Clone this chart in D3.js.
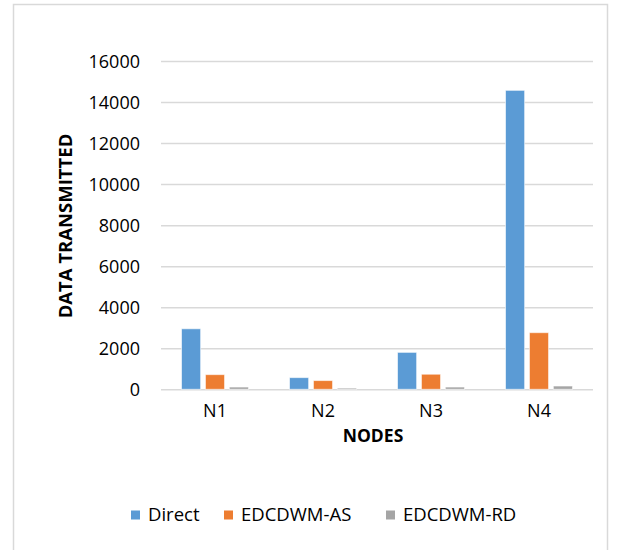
<!DOCTYPE html>
<html>
<head>
<meta charset="utf-8">
<script src="https://cdn.jsdelivr.net/npm/d3@7"></script>
<style>
  html, body { margin: 0; padding: 0; background: #fff; }
  svg { display: block; }
  text { font-family: "Open Sans", "Noto Sans", sans-serif; fill: #000; }
</style>
</head>
<body>
<svg id="chart" width="621" height="550"></svg>
<script>
const categories = ["N1", "N2", "N3", "N4"];
const seriesNames = ["Direct", "EDCDWM-AS", "EDCDWM-RD"];
const directValues = [2950, 570, 1800, 14570];
const asValues = [715, 425, 735, 2760];
const rdValues = [110, 60, 110, 160];
const yTicks = [0, 2000, 4000, 6000, 8000, 10000, 12000, 14000, 16000];
const colors = ["#5B9BD5", "#ED7D31", "#A5A5A5"];

const seriesValues = [directValues, asValues, rdValues];

const svg = d3.select("#chart");

// chart border
svg.append("rect")
  .attr("x", 13.5).attr("y", 4.5)
  .attr("width", 594).attr("height", 560)
  .attr("fill", "#fff").attr("stroke", "#D9D9D9").attr("stroke-width", 1.5);

const plot = { left: 161, right: 593, top: 61, bottom: 389.3 };

const x = d3.scaleBand().domain(categories).range([plot.left, plot.right]).padding(0);
const gw = 67;
const xs = d3.scaleBand().domain(seriesNames)
  .range([(x.bandwidth() - gw) / 2, (x.bandwidth() + gw) / 2])
  .paddingInner(0.2).paddingOuter(0);
const y = d3.scaleLinear().domain([0, 16000]).range([plot.bottom, plot.top]);

// gridlines
const yAxisGrid = d3.axisLeft(y).tickValues(yTicks).tickSize(-(plot.right - plot.left)).tickFormat("");
const grid = svg.append("g").attr("transform", `translate(${plot.left},0)`).call(yAxisGrid);
grid.select(".domain").remove();
grid.selectAll("line").attr("stroke", "#D9D9D9").attr("stroke-width", 1.5);

// tick labels
const yAxis = d3.axisLeft(y).tickValues(yTicks).tickSize(0).tickPadding(0).tickFormat(d3.format("d"));
const ya = svg.append("g").attr("transform", `translate(140,0)`).call(yAxis);
ya.select(".domain").remove();
ya.selectAll("text").attr("font-size", 18).attr("font-family", "Open Sans").attr("fill", "#000").attr("dy", "0.34em");

// bars
const data = [];
categories.forEach((c, i) => {
  seriesNames.forEach((s, j) => {
    data.push({ cat: c, series: s, value: seriesValues[j][i], color: colors[j] });
  });
});

svg.append("g").selectAll("rect").data(data).join("rect")
  .attr("x", d => x(d.cat) + xs(d.series))
  .attr("y", d => y(d.value))
  .attr("width", xs.bandwidth())
  .attr("height", d => y(0) - y(d.value))
  .attr("fill", d => d.color)
  .attr("stroke", "#ffffff").attr("stroke-opacity", 0.6).attr("stroke-width", 1);

// x axis labels
const xAxis = d3.axisBottom(x).tickSize(0).tickPadding(0);
const xa = svg.append("g").attr("transform", `translate(0,${plot.bottom + 22})`).call(xAxis);
xa.select(".domain").remove();
xa.selectAll("text").attr("font-size", 18).attr("font-family", "Open Sans").attr("fill", "#000").attr("dy", "0.32em");

// axis titles
svg.append("text")
  .attr("x", 373).attr("y", 436).attr("dy", "0.35em")
  .attr("text-anchor", "middle")
  .attr("font-size", 17.5).attr("font-weight", "bold")
  .text("NODES");

svg.append("text")
  .attr("transform", "translate(66,226) rotate(-90)")
  .attr("dy", "0.35em")
  .attr("text-anchor", "middle")
  .attr("font-size", 18.5).attr("font-weight", "bold")
  .text("DATA TRANSMITTED");

// legend
const legendX = [131, 224, 386];
const legend = svg.append("g").selectAll("g").data(seriesNames).join("g")
  .attr("transform", (d, i) => `translate(${legendX[i]},515)`);
legend.append("rect")
  .attr("x", 0).attr("y", -4.5).attr("width", 9).attr("height", 9)
  .attr("fill", (d, i) => colors[i]);
legend.append("text")
  .attr("x", 17).attr("y", 0).attr("dy", "0.35em")
  .attr("font-size", 18.5)
  .text(d => d);
</script>
</body>
</html>
